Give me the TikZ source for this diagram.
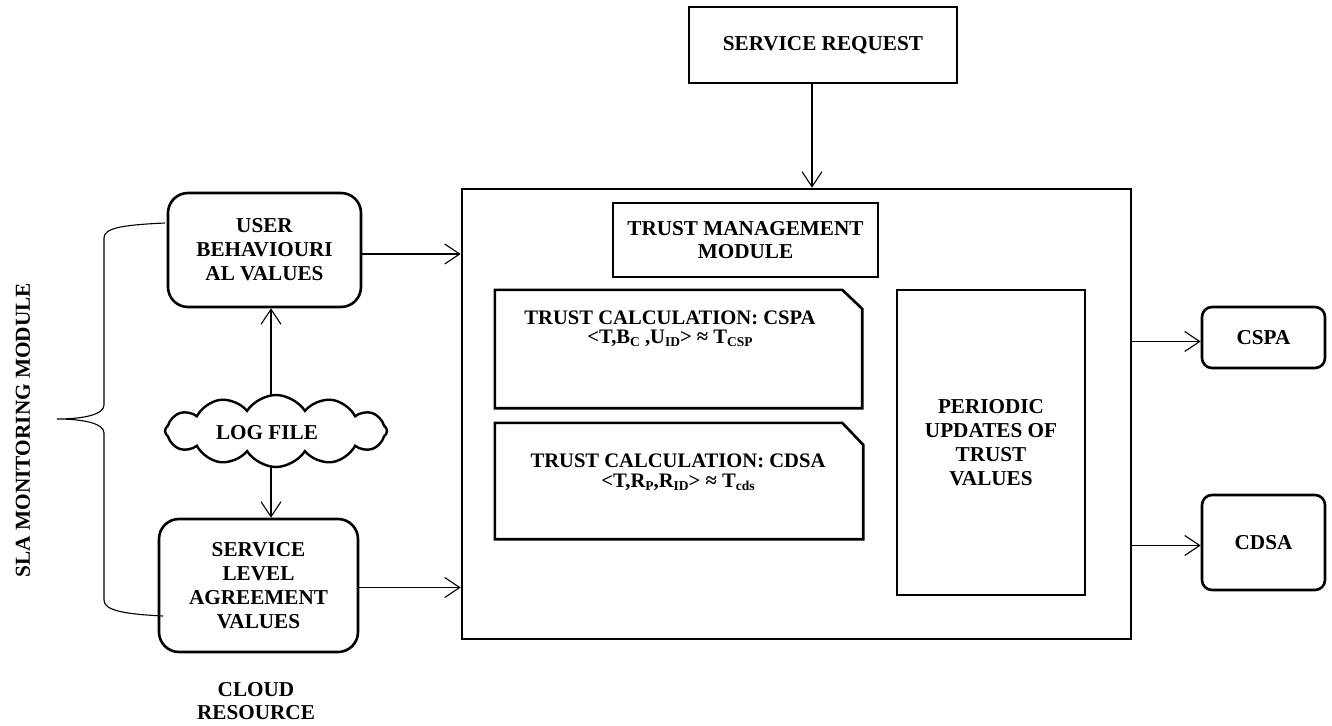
\documentclass[tikz,border=0pt]{standalone}
\usepackage{fontspec}
\setmainfont{Liberation Serif}
\usetikzlibrary{arrows.meta,shapes.symbols}
\newcommand\lsub[1]{\raisebox{-3pt}{\fontsize{13.5}{13.5}\selectfont #1}}
\tikzset{
  lbl/.style={font=\bfseries\fontsize{21.2}{24}\selectfont, align=center, inner sep=0pt},
  sqbox/.style={draw, line width=2.6pt, rectangle, inner sep=0pt},
  rbox/.style={sqbox, rounded corners=20pt},
  sbox/.style={sqbox, rounded corners=10pt},
  plain/.style={rectangle, inner sep=0pt},
  arr/.style={line width=1.1pt, -{Straight Barb[length=15pt, width=20pt, line width=1.1pt]}},
}
\begin{document}
\begin{tikzpicture}[x=1pt, y=-1pt]
\useasboundingbox (0,0) rectangle (1332,725);

% request and central trust module
\node[sqbox, lbl, minimum width=268pt, minimum height=76pt] (sr) at (823,45) {SERVICE REQUEST};
\node[sqbox, minimum width=669pt, minimum height=450pt] (big) at (796.5,414) {};
\node[sqbox, lbl, minimum width=265pt, minimum height=74pt, font=\bfseries\fontsize{21.2}{23}\selectfont] (tmm) at (745.5,240) {TRUST MANAGEMENT\\MODULE};

% trust calculation boxes with a cut corner
\node[plain, minimum width=367pt, minimum height=118pt] (calcA) at (678.5,349) {};
\draw[line width=2.6pt, line join=miter] (calcA.north west) -- ([xshift=-20pt]calcA.north east)
  -- ([yshift=-19pt]calcA.north east) -- (calcA.south east) -- (calcA.south west) -- cycle;
\node[lbl, font=\bfseries\fontsize{20.6}{19}\selectfont] (calcAtxt) at (670,329)
  {TRUST CALCULATION: CSPA\\<T,B\lsub{C} ,U\lsub{ID}> ≈ T\lsub{CSP}};

\node[plain, minimum width=368pt, minimum height=116pt] (calcB) at (679,481) {};
\draw[line width=2.6pt, line join=miter] (calcB.north west) -- ([xshift=-21pt]calcB.north east)
  -- ([yshift=-22pt]calcB.north east) -- (calcB.south east) -- (calcB.south west) -- cycle;
\node[lbl, font=\bfseries\fontsize{20.6}{20}\selectfont] (calcBtxt) at (678,472)
  {TRUST CALCULATION: CDSA\\<T,R\lsub{P},R\lsub{ID}> ≈ T\lsub{cds}};

\node[sqbox, lbl, minimum width=188pt, minimum height=305pt] (upd) at (991,442.5)
  {PERIODIC\\UPDATES OF\\TRUST\\VALUES};

% outputs
\node[sbox, lbl, minimum width=123pt, minimum height=61pt] (cspa) at (1263.5,337.5) {CSPA};
\node[sbox, lbl, minimum width=123pt, minimum height=95pt] (cdsa) at (1263.5,542.5) {CDSA};

% SLA monitoring side
\node[rbox, lbl, minimum width=193pt, minimum height=114pt] (ubv) at (264.5,250)
  {USER\\BEHAVIOURI\\AL VALUES};
\node[rbox, lbl, minimum width=199pt, minimum height=133pt] (sla) at (258.5,585.5)
  {SERVICE\\LEVEL\\AGREEMENT\\VALUES};
\node[draw, line width=2.4pt, shape=cloud, cloud puffs=12, cloud puff arc=115, aspect=3.1,
  minimum width=222pt, minimum height=72pt, inner sep=0pt] (log) at (276,431) {};
\node[lbl] (logtxt) at (267,433) {LOG FILE};
\coordinate (logtop) at (271,396);
\coordinate (logbot) at (271,467);
\node[lbl, font=\bfseries\fontsize{21.2}{23.5}\selectfont] (cres) at (256,701) {CLOUD\\RESOURCE};
\node[lbl, rotate=90, font=\bfseries\fontsize{21.3}{24}\selectfont] (slam) at (23,430) {SLA MONITORING MODULE};

% brace grouping the monitored values
\draw[line width=1.1pt] (165,223) .. controls (122,225) and (104,228) .. (104,238) -- (104,405)
  .. controls (104,415) and (82,419) .. (57,419)
  .. controls (82,419) and (104,423) .. (104,433) -- (104,600)
  .. controls (104,610) and (122,614) .. (163,616);

% connectors
\coordinate (rx) at (812,0);
\draw[arr] (rx |- sr.south) -- (rx |- big.north);
\draw[arr] (logtop) -- (logtop |- ubv.south);
\draw[arr] (logbot) -- (logbot |- sla.north);
\draw[arr] ([yshift=-4pt]ubv.east) -- ([yshift=-4pt]ubv.east -| big.west);
\draw[arr] ([yshift=-2pt]sla.east) -- ([yshift=-2pt]sla.east -| big.west);
\draw[arr] ([yshift=-4pt]cspa.west -| big.east) -- ([yshift=-4pt]cspa.west);
\draw[arr] ([yshift=-3pt]cdsa.west -| big.east) -- ([yshift=-3pt]cdsa.west);
\end{tikzpicture}
\end{document}
